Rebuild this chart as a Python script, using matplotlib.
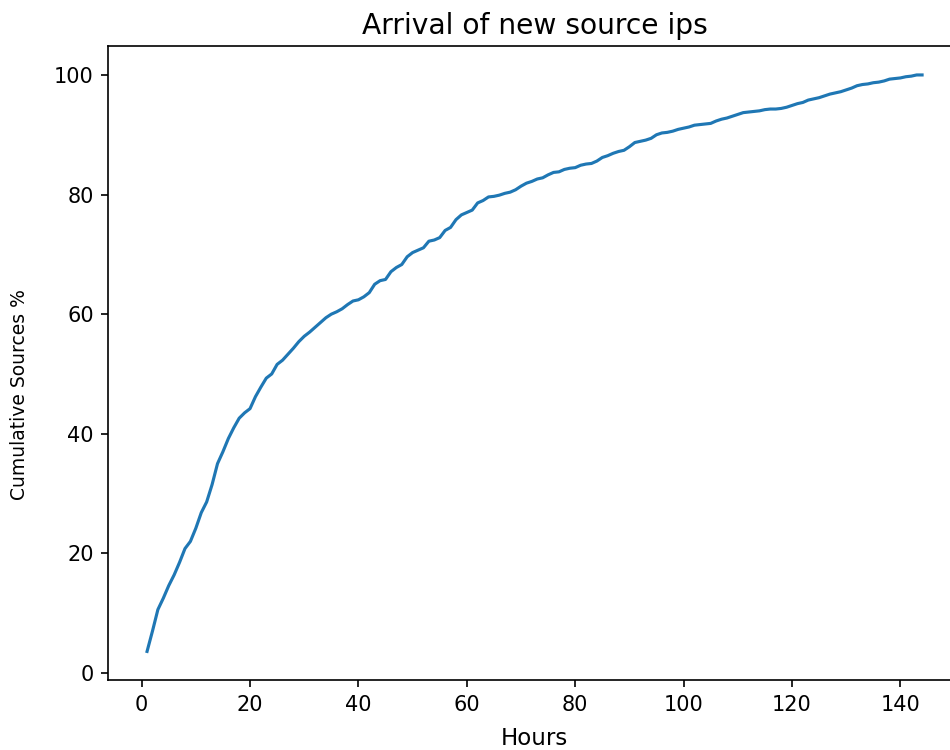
import matplotlib
matplotlib.use('Agg')
import matplotlib.pyplot as plt


# DATA: cumulative share of source ips seen, one value per hour

hours = list(range(1, 145))

cumulative_pct = [
    3.6, 7.0, 10.6, 12.5, 14.6, 16.4, 18.5, 20.8, 22.0, 24.2,
    26.8, 28.6, 31.5, 35.0, 37.0, 39.2, 41.0, 42.6, 43.5, 44.2,
    46.2, 47.8, 49.3, 50.0, 51.6, 52.3, 53.3, 54.3, 55.4, 56.3,
    57.0, 57.8, 58.6, 59.4, 60.0, 60.4, 60.9, 61.6, 62.2, 62.4,
    62.9, 63.6, 65.0, 65.6, 65.8, 67.1, 67.8, 68.3, 69.6, 70.3,
    70.7, 71.1, 72.2, 72.4, 72.8, 74.0, 74.5, 75.8, 76.6, 77.0,
    77.4, 78.6, 79.0, 79.6, 79.7, 79.9, 80.2, 80.4, 80.8, 81.4,
    81.9, 82.2, 82.6, 82.8, 83.3, 83.7, 83.8, 84.2, 84.4, 84.5,
    84.9, 85.1, 85.2, 85.6, 86.2, 86.5, 86.9, 87.2, 87.4, 88.0,
    88.7, 88.9, 89.1, 89.4, 90.0, 90.3, 90.4, 90.6, 90.9, 91.1,
    91.3, 91.6, 91.7, 91.8, 91.9, 92.3, 92.6, 92.8, 93.1, 93.4,
    93.7, 93.8, 93.9, 94.0, 94.2, 94.3, 94.3, 94.4, 94.6, 94.9,
    95.2, 95.4, 95.8, 96.0, 96.2, 96.5, 96.8, 97.0, 97.2, 97.5,
    97.8, 98.2, 98.4, 98.5, 98.7, 98.8, 99.0, 99.3, 99.4, 99.5,
    99.7, 99.8, 100.0, 100.0,
]

# PLOT (reference is a crop: the axes run past the right edge)

fig = plt.figure(figsize=(950 / 150, 750 / 150), dpi=150)
ax = fig.add_axes([0.114, 0.093, 0.8974, 0.8455])

ax.plot(hours, cumulative_pct, color='#1f77b4')
ax.set_xlabel('Hours', fontsize=11, labelpad=6)
ax.set_ylabel('Cumulative Sources %', fontsize=9)
ax.yaxis.set_label_coords(-0.093, 0.45)
ax.set_title('Arrival of new source ips', fontsize=13.5)

fig.savefig('out.png', dpi=150)
